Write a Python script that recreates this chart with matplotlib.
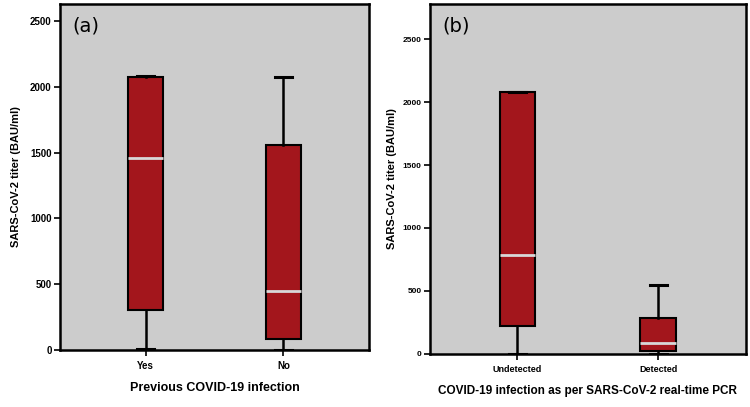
import matplotlib.pyplot as plt

plt.rcParams['font.family'] = ['Liberation Sans Narrow', 'Liberation Sans', 'DejaVu Sans']

# panel (a): previous COVID-19 infection
a_labels = ['Yes', 'No']
a_whislo = [10, 2]
a_q1 = [304, 86]
a_med = [1461, 451]
a_q3 = [2077, 1555]
a_whishi = [2082, 2077]

# panel (b): PCR result
b_labels = ['Undetected', 'Detected']
b_whislo = [0, 0]
b_q1 = [222, 18]
b_med = [788, 85]
b_q3 = [2082, 286]
b_whishi = [2082, 545]

BOX = '#a3161c'
BG = '#cccccc'


def make_stats(labels, lo, q1, med, q3, hi):
    return [dict(label=l, whislo=w0, q1=a, med=m, q3=b, whishi=w1, fliers=[])
            for l, w0, a, m, b, w1 in zip(labels, lo, q1, med, q3, hi)]


def panel(ax, stats, ymax, xlabel, tag, ytick_fs, xtick_fs, xlab_fs, ylab_x):
    ax.set_facecolor(BG)
    ax.bxp(stats, positions=[1, 2], widths=0.25, patch_artist=True,
           boxprops=dict(facecolor=BOX, edgecolor='black', linewidth=1.5),
           medianprops=dict(color='#d8d8d8', linewidth=2),
           whiskerprops=dict(color='black', linewidth=1.8),
           capprops=dict(color='black', linewidth=2.2),
           capwidths=0.12)
    ax.set_xlim(0.38, 2.62)
    ax.set_ylim(0, ymax)
    ax.set_yticks([0, 500, 1000, 1500, 2000, 2500])
    for s in ax.spines.values():
        s.set_linewidth(1.8)
    ax.tick_params(axis='y', length=4, width=1.2, labelsize=ytick_fs, pad=2)
    ax.tick_params(axis='x', length=4, width=1.2, labelsize=xtick_fs, pad=4)
    for t in ax.get_xticklabels() + ax.get_yticklabels():
        t.set_fontweight('bold')
    ax.set_ylabel('SARS-CoV-2 titer (BAU/ml)', fontsize=8, fontweight='bold')
    ax.yaxis.set_label_coords(ylab_x, 0.5)
    ax.set_xlabel(xlabel, fontsize=xlab_fs, fontweight='bold', labelpad=8)
    ax.text(0.04, 0.965, tag, transform=ax.transAxes, fontsize=14,
            va='top', ha='left', family='DejaVu Sans')


fig = plt.figure(figsize=(7.5, 4.07), dpi=100)
ax1 = fig.add_axes([0.08, 0.14, 0.412, 0.85])
ax2 = fig.add_axes([0.573, 0.131, 0.421, 0.859])

panel(ax1, make_stats(a_labels, a_whislo, a_q1, a_med, a_q3, a_whishi),
      2630, 'Previous COVID-19 infection', '(a)', 7, 7, 9, -0.125)
panel(ax2, make_stats(b_labels, b_whislo, b_q1, b_med, b_q3, b_whishi),
      2780, 'COVID-19 infection as per SARS-CoV-2 real-time PCR', '(b)', 6, 6.5, 8.5, -0.105)

fig.savefig('out.png', dpi=100)
